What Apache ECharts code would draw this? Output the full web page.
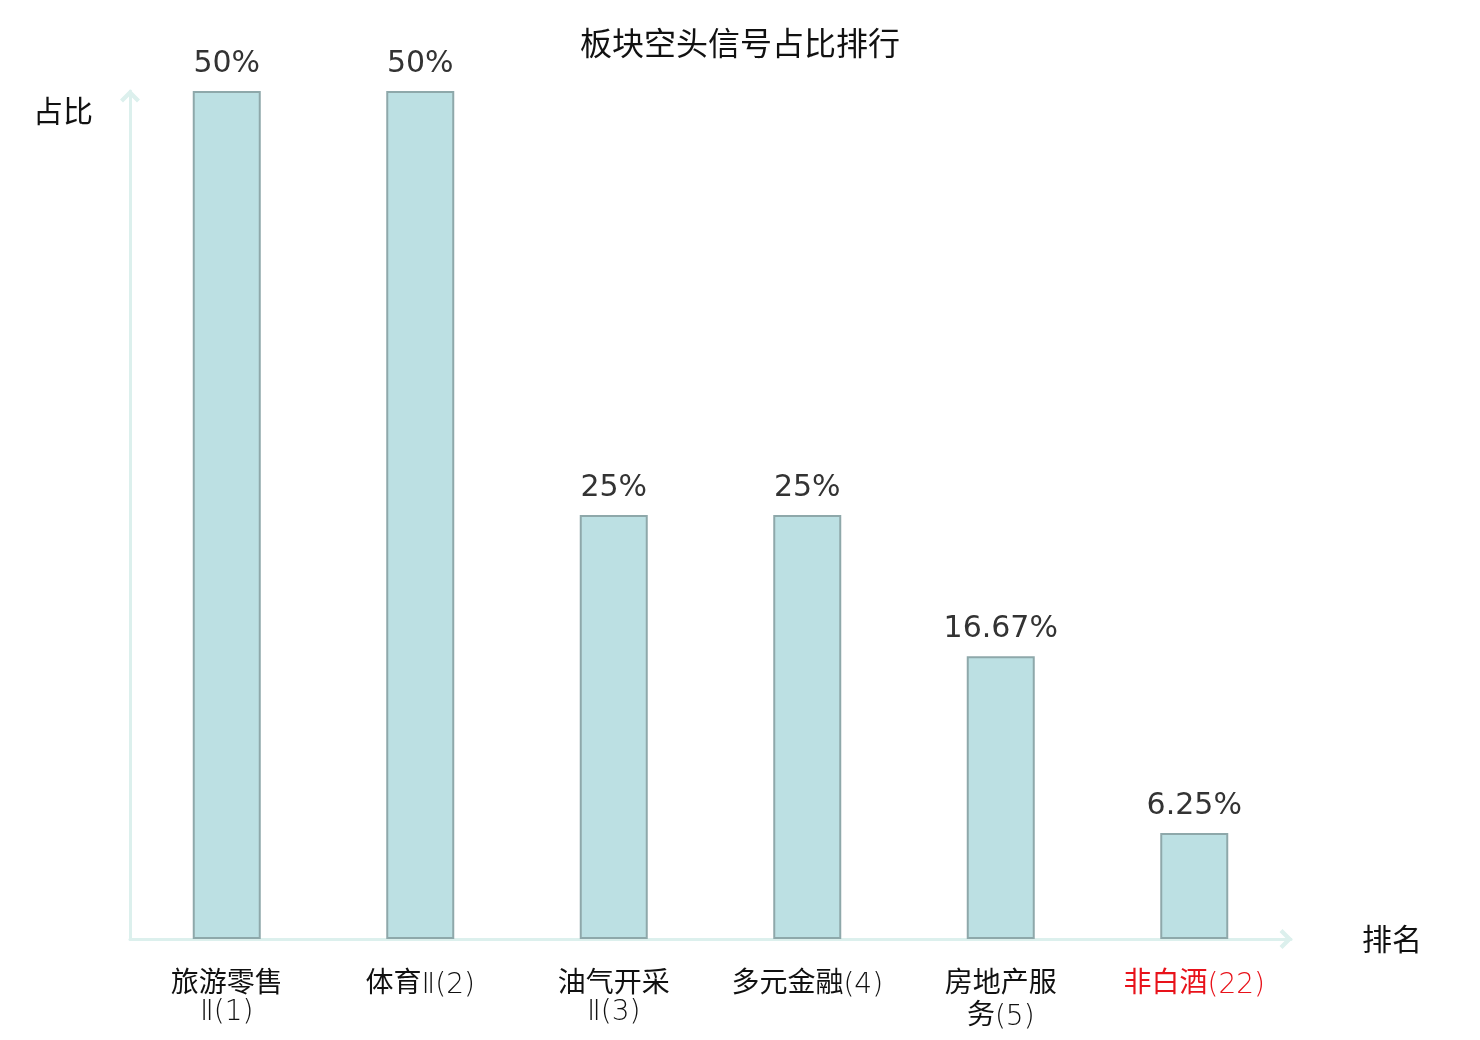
<!DOCTYPE html>
<html>
<head>
<meta charset="utf-8">
<title>板块空头信号占比排行</title>
<script src="https://cdn.jsdelivr.net/npm/echarts@6/dist/echarts.min.js"></script>
<style>
  html, body { margin: 0; padding: 0; background: #fff; }
  #main { width: 1480px; height: 1040px; }
</style>
</head>
<body>
<div id="main"></div>
<script>
// 板块名称(排名),换行按原图位置
var sectors = ['旅游零售\nⅡ(1)', '体育Ⅱ(2)', '油气开采\nⅡ(3)', '多元金融(4)', '房地产服\n务(5)', '非白酒(22)'];
// 空头信号占比 (%)
var ratios = [50, 50, 25, 25, 16.67, 6.25];
// 需要标红的板块
var highlightIndex = 5;

var chart = echarts.init(document.getElementById('main'));

// 开口箭头
var arrowPath = 'path://M10,0 L20,10 L17,13 L10,6 L3,13 L0,10 Z';

chart.setOption({
    animation: false,
    title: {
        text: '板块空头信号占比排行',
        left: 'center',
        top: 22,
        textStyle: {
            fontFamily: 'Noto Sans CJK SC',
            fontSize: 32,
            fontWeight: 'normal',
            color: '#111'
        }
    },
    grid: {
        left: 130,
        right: 189,
        top: 91,
        bottom: 101
    },
    xAxis: {
        type: 'category',
        data: sectors,
        name: '排名',
        nameLocation: 'end',
        nameGap: 71,
        nameTextStyle: {
            fontFamily: 'Noto Sans CJK SC',
            fontSize: 30,
            color: '#111'
        },
        axisLine: {
            lineStyle: { color: '#dcf0ed', width: 3 },
            symbol: ['none', arrowPath],
            symbolSize: [22, 13],
            symbolOffset: [0, -5]
        },
        axisTick: { show: false },
        axisLabel: {
            interval: 0,
            margin: 26,
            fontFamily: 'Noto Sans CJK SC',
            fontSize: 28,
            lineHeight: 32,
            color: function (value, index) {
                return index === highlightIndex ? '#e8121a' : '#111';
            },
            // 中文常规字重, 数字和括号用细体
            formatter: function (value) {
                return value
                    .replace(/([\u4e00-\u9fff]+)/g, '{cjk|$1}')
                    .replace(/([^\u4e00-\u9fff\n{}|a-z]+)(?![^{]*\})/g, '{lat|$1}');
            },
            rich: {
                cjk: {
                    fontFamily: 'Noto Sans CJK SC',
                    fontSize: 28,
                    lineHeight: 32,
                    verticalAlign: 'middle'
                },
                lat: {
                    fontFamily: 'DejaVu Sans',
                    fontWeight: 200,
                    fontSize: 28,
                    lineHeight: 22,
                    padding: [10, 0, 0, 0],
                    verticalAlign: 'middle'
                }
            }
        }
    },
    yAxis: {
        type: 'value',
        min: 0,
        max: 50,
        name: '占比',
        nameLocation: 'end',
        nameGap: -5,
        nameTextStyle: {
            fontFamily: 'Noto Sans CJK SC',
            fontSize: 30,
            color: '#111',
            align: 'right',
            verticalAlign: 'top',
            padding: [0, 37, 0, 0]
        },
        axisLine: {
            show: true,
            lineStyle: { color: '#dcf0ed', width: 3 },
            symbol: ['none', arrowPath],
            symbolSize: [22, 13],
            symbolOffset: [0, -5]
        },
        axisTick: { show: false },
        axisLabel: { show: false },
        splitLine: { show: false }
    },
    series: [
        {
            type: 'bar',
            data: ratios,
            barWidth: 68,
            itemStyle: {
                color: '#bce0e3',
                borderColor: '#8ea8aa',
                borderWidth: 2
            },
            label: {
                show: true,
                position: 'top',
                distance: 12,
                fontFamily: 'DejaVu Sans',
                fontSize: 30,
                color: '#333',
                formatter: function (p) {
                    return p.value + '%';
                }
            }
        }
    ]
});
</script>
</body>
</html>
